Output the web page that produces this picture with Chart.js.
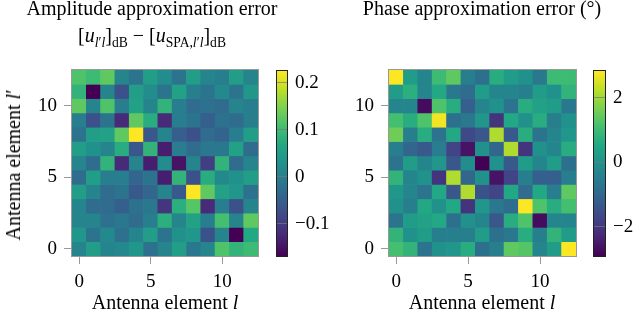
<!DOCTYPE html>
<html>
<head>
<meta charset="utf-8">
<script src="https://cdn.jsdelivr.net/npm/chart.js@4.4.1/dist/chart.umd.min.js"></script>
<style>
  body { margin: 0; background: #fff; }
  #wrap { position: relative; width: 640px; height: 318px; overflow: hidden; font-family: "Liberation Serif", serif; color: #000; }
  canvas { position: absolute; top: 0; }
  .lbl { position: absolute; white-space: nowrap; font-size: 20px; line-height: 20px; transform: translateX(-50%); }
  .rot { transform: translate(-50%, -50%) rotate(-90deg); }
  sub { font-size: 68%; vertical-align: -0.35em; line-height: 0; }
</style>
</head>
<body>
<div id="wrap">
  <canvas id="ampChart" style="left:0px" width="270" height="318"></canvas>
  <canvas id="ampBar" style="left:262px" width="78" height="318"></canvas>
  <canvas id="phaseChart" style="left:320px" width="268" height="318"></canvas>
  <canvas id="phaseBar" style="left:580px" width="60" height="318"></canvas>

  <div class="lbl" style="left:152px; top:-2px">Amplitude approximation error</div>
  <div class="lbl" style="left:152px; top:25px">[<i>u</i><sub><i>l</i>′<i>l</i></sub>]<sub>dB</sub> − [<i>u</i><sub>SPA,<i>l</i>′<i>l</i></sub>]<sub>dB</sub></div>
  <div class="lbl" style="left:482px; top:-2px">Phase approximation error (°)</div>
  <div class="lbl" style="left:165px; top:292px">Antenna element <i>l</i></div>
  <div class="lbl" style="left:482px; top:292px">Antenna element <i>l</i></div>
  <div class="lbl rot" style="left:13px; top:165px">Antenna element <i>l</i>′</div>
</div>

<script>
// ---------- DATA ----------
const elements = [0, 1, 2, 3, 4, 5, 6, 7, 8, 9, 10, 11, 12];   // antenna element l (columns)
const rowElements = [12, 11, 10, 9, 8, 7, 6, 5, 4, 3, 2, 1, 0]; // antenna element l' for each row below (top to bottom)
const axisTicks = [0, 5, 10];

// amplitude error in dB, rows top (l'=12) to bottom (l'=0)
const ampErr = [
  [0.115, 0.099, 0.127, 0.008, -0.019, 0.048, 0.020, -0.019, 0.048, 0.008, 0.000, 0.048, 0.008],
  [0.087, -0.169, 0.008, -0.071, 0.048, 0.020, -0.019, 0.056, 0.000, -0.019, 0.016, -0.019, 0.036],
  [0.127, 0.008, 0.115, -0.004, 0.056, 0.008, 0.087, -0.004, -0.031, -0.023, -0.031, 0.008, -0.004],
  [-0.004, -0.071, -0.019, -0.122, 0.127, 0.075, -0.122, -0.004, -0.019, -0.051, -0.023, -0.031, 0.000],
  [-0.019, 0.048, 0.056, 0.127, 0.225, -0.063, 0.008, -0.051, -0.071, -0.031, -0.043, -0.004, 0.048],
  [0.048, 0.028, 0.008, 0.075, -0.063, 0.087, -0.137, -0.004, -0.031, -0.011, -0.011, 0.056, -0.031],
  [0.008, -0.031, 0.087, -0.122, 0.008, -0.137, 0.020, -0.149, 0.008, -0.098, 0.087, -0.031, 0.008],
  [-0.031, 0.048, -0.004, -0.004, -0.039, -0.019, -0.137, 0.087, -0.071, 0.075, 0.016, 0.028, 0.048],
  [0.048, 0.008, -0.031, -0.019, -0.059, -0.039, 0.008, -0.059, 0.225, 0.127, 0.056, 0.036, -0.023],
  [0.008, -0.031, -0.031, -0.051, -0.023, -0.011, -0.110, 0.079, 0.119, -0.122, -0.004, -0.071, 0.008],
  [0.008, 0.008, -0.023, -0.011, -0.031, -0.004, 0.079, 0.008, 0.056, -0.004, 0.107, 0.008, 0.127],
  [0.036, -0.019, 0.016, -0.023, 0.008, 0.048, -0.019, 0.028, 0.036, -0.071, 0.008, -0.169, 0.067],
  [0.008, 0.048, 0.008, 0.016, 0.036, -0.023, 0.008, 0.048, -0.011, 0.008, 0.115, 0.087, 0.099]
];

// phase error in degrees, rows top (l'=12) to bottom (l'=0)
const phaseErr = [
  [2.83, 0.25, -0.32, 1.00, 1.40, -0.44, -0.78, 0.65, 0.25, -0.04, -0.61, 1.00, 1.00],
  [0.25, 0.71, -0.32, 0.54, -0.61, -0.89, 0.25, -0.32, -0.32, -0.44, 0.25, -0.04, 0.82],
  [-0.32, -0.32, -2.73, 1.23, 0.65, -1.18, -0.32, -0.04, -0.72, 0.65, 0.37, 0.25, -0.61],
  [1.11, 0.65, 1.23, 2.72, -0.78, -0.61, 0.08, -2.04, 0.54, -0.04, 0.65, -0.44, -0.04],
  [1.57, -0.44, 0.65, -0.72, 0.54, -1.64, -1.35, 2.14, -1.30, 0.65, -0.72, -0.32, 0.08],
  [-0.44, -1.01, -1.30, -0.49, -1.75, -2.61, -0.04, -1.01, 2.14, -2.04, -0.04, -0.32, 0.65],
  [-0.72, 0.25, -0.32, 0.08, -1.35, -0.15, -2.90, -0.04, -1.30, 0.25, -0.32, 0.25, -0.78],
  [0.82, -0.32, -0.04, -2.04, 2.14, -1.01, -0.04, -2.61, -1.75, -0.44, -1.18, -1.18, -0.49],
  [0.08, -0.32, -0.72, 0.54, -1.35, 2.14, -1.47, -1.75, 0.54, -0.89, 0.54, -0.49, 1.40],
  [-0.04, -0.44, 0.54, -0.04, 0.54, -2.04, 0.08, -0.61, -0.89, 2.83, 1.23, 0.65, 1.11],
  [-0.72, 0.25, 0.37, 0.54, -0.78, -0.04, -0.32, -1.35, 0.65, 1.23, -2.73, -0.32, -0.32],
  [0.82, -0.04, 0.25, -0.44, -0.44, -0.44, 0.25, -0.78, -0.61, 0.65, -0.44, 0.82, 0.25],
  [1.11, 0.82, -0.72, -0.04, 0.08, 0.65, -0.78, -0.44, 1.40, 1.28, -0.32, 0.25, 2.83]
];

const ampBarTicks = [-0.1, 0, 0.1, 0.2];
const phaseBarTicks = [-2, 0, 2];

// ---------- COLORMAP ----------
const viridis = ["#440154", "#482475", "#414487", "#355f8d", "#2a788e", "#21918c",
                 "#22a884", "#44bf70", "#7ad151", "#bddf26", "#fde725"];

function hexRgb(h) {
  return [parseInt(h.slice(1, 3), 16), parseInt(h.slice(3, 5), 16), parseInt(h.slice(5, 7), 16)];
}

function colorAt(t) {
  t = Math.max(0, Math.min(1, t)) * (viridis.length - 1);
  const i = Math.min(Math.floor(t), viridis.length - 2);
  const f = t - i;
  const a = hexRgb(viridis[i]), b = hexRgb(viridis[i + 1]);
  const c = a.map((v, k) => Math.round(v + (b[k] - v) * f));
  return "rgb(" + c.join(",") + ")";
}

const FONT = { family: "'Liberation Serif', serif", size: 19 };

// frame around the plot area
const framePlugin = {
  id: "frame",
  afterDraw(chart, args, opts) {
    const { ctx, chartArea: a } = chart;
    ctx.save();
    ctx.strokeStyle = opts.color || "#999";
    ctx.lineWidth = 1;
    ctx.strokeRect(Math.round(a.left) - 0.5, Math.round(a.top) - 0.5,
                   Math.round(a.right - a.left) + 1, Math.round(a.bottom - a.top) + 1);
    ctx.restore();
  }
};

// ---------- HEATMAP ----------
function heatChart(id, rows, yWidth) {
  const flat = rows.flat();
  const lo = Math.min(...flat), hi = Math.max(...flat);

  const datasets = rows.map((row, i) => {
    const lp = rowElements[i];
    return {
      data: row.map((v, c) => ({ x: elements[c], y: [lp - 0.5, lp + 0.5] })),
      backgroundColor: row.map(v => colorAt((v - lo) / (hi - lo))),
      borderWidth: 0,
      barPercentage: 1,
      categoryPercentage: 1,
      grouped: false
    };
  });

  const tickAxis = (extra) => Object.assign({
    type: "linear",
    min: -0.5,
    max: 12.5,
    offset: false,
    afterBuildTicks: s => { s.ticks = axisTicks.map(v => ({ value: v })); },
    grid: { display: true, offset: false, drawOnChartArea: false, drawTicks: true, tickLength: 8, color: "#999" },
    border: { display: false },
    ticks: { color: "#000", font: FONT, padding: 7 }
  }, extra);

  new Chart(document.getElementById(id), {
    type: "bar",
    data: { datasets },
    options: {
      responsive: false,
      animation: false,
      layout: { padding: { top: 70, right: 12, left: 0, bottom: 0 } },
      plugins: { legend: { display: false }, tooltip: { enabled: false }, frame: { color: "#999" } },
      scales: {
        x: tickAxis({ afterFit: s => { s.height = 62; } }),
        y: tickAxis({ afterFit: s => { s.width = yWidth; }, ticks: { color: "#000", font: FONT, padding: 7 } })
      }
    },
    plugins: [framePlugin]
  });
  return { lo, hi };
}

// ---------- COLORBAR ----------
function colorBar(id, lo, hi, ticks, padLeft, axisWidth) {
  new Chart(document.getElementById(id), {
    type: "bar",
    data: {
      labels: ["c"],
      datasets: [{
        data: [[lo, hi]],
        backgroundColor: (ctx) => {
          const chart = ctx.chart;
          if (!chart.chartArea) return null;
          const y = chart.scales.y;
          const g = chart.ctx.createLinearGradient(0, y.getPixelForValue(lo), 0, y.getPixelForValue(hi));
          viridis.forEach((c, i) => g.addColorStop(i / (viridis.length - 1), c));
          return g;
        },
        borderWidth: 0,
        barPercentage: 1,
        categoryPercentage: 1
      }]
    },
    options: {
      responsive: false,
      animation: false,
      layout: { padding: { top: 71, left: padLeft, right: 0, bottom: 62 } },
      plugins: { legend: { display: false }, tooltip: { enabled: false }, frame: { color: "#222" } },
      scales: {
        x: { display: false },
        y: {
          position: "right",
          min: lo,
          max: hi,
          afterFit: s => { s.width = axisWidth; },
          afterBuildTicks: s => { s.ticks = ticks.map(v => ({ value: v })); },
          grid: { display: true, drawOnChartArea: true, drawTicks: false, color: "rgba(120,120,120,0.7)", z: 1 },
          border: { display: false },
          ticks: {
            color: "#000", font: FONT, padding: 8,
            callback: v => (v < 0 ? "\u2212" : "") + String(Math.abs(v))
          }
        }
      }
    },
    plugins: [framePlugin]
  });
}

const amp = heatChart("ampChart", ampErr, 72);
const phase = heatChart("phaseChart", phaseErr, 69);
colorBar("ampBar", amp.lo, amp.hi, ampBarTicks, 15, 53);
colorBar("phaseBar", phase.lo, phase.hi, phaseBarTicks, 14, 35);
</script>
</body>
</html>
